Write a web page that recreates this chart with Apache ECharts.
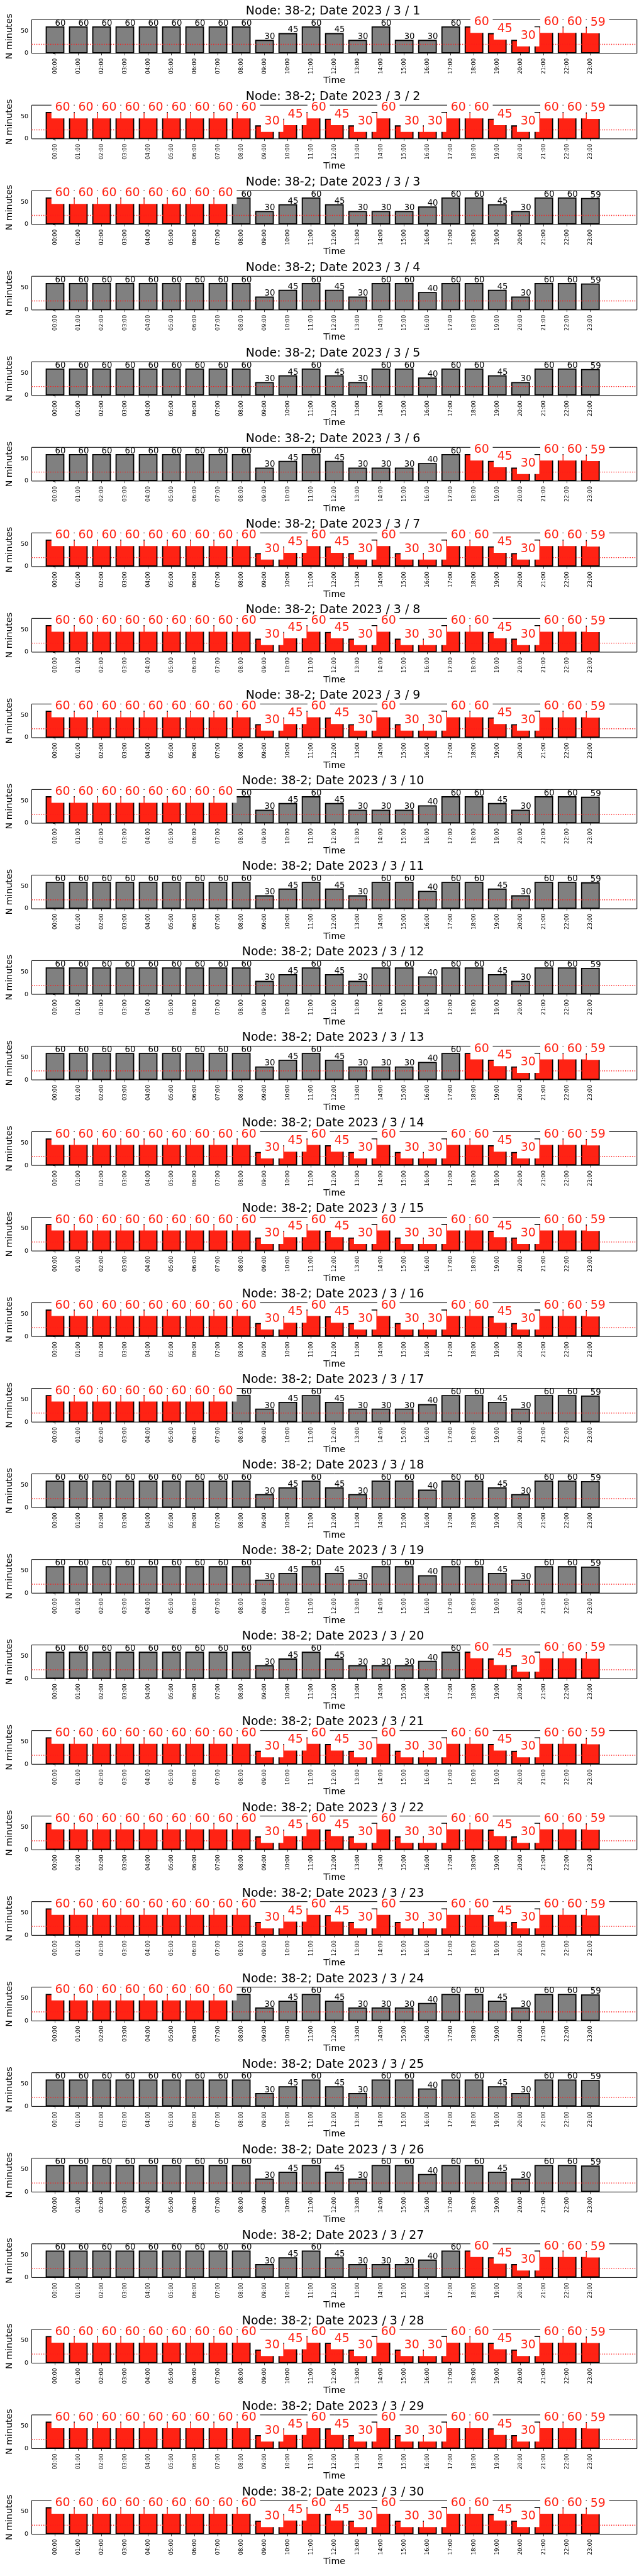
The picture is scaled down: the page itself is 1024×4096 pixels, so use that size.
<!DOCTYPE html>
<html><head><meta charset="utf-8">
<script src="https://cdn.jsdelivr.net/npm/echarts@6/dist/echarts.min.js"></script>
<style>html,body{margin:0;padding:0;background:#fff}#c{width:1024px;height:4096px}</style>
</head><body><div id="c"></div>
<script>
// ---------- data ----------
const hourLabels = ['00:00','01:00','02:00','03:00','04:00','05:00','06:00','07:00','08:00','09:00','10:00','11:00',
  '12:00','13:00','14:00','15:00','16:00','17:00','18:00','19:00','20:00','21:00','22:00','23:00'];
const dayLabels = ['2023 / 3 / 1','2023 / 3 / 2','2023 / 3 / 3','2023 / 3 / 4','2023 / 3 / 5','2023 / 3 / 6',
  '2023 / 3 / 7','2023 / 3 / 8','2023 / 3 / 9','2023 / 3 / 10','2023 / 3 / 11','2023 / 3 / 12','2023 / 3 / 13',
  '2023 / 3 / 14','2023 / 3 / 15','2023 / 3 / 16','2023 / 3 / 17','2023 / 3 / 18','2023 / 3 / 19','2023 / 3 / 20',
  '2023 / 3 / 21','2023 / 3 / 22','2023 / 3 / 23','2023 / 3 / 24','2023 / 3 / 25','2023 / 3 / 26','2023 / 3 / 27',
  '2023 / 3 / 28','2023 / 3 / 29','2023 / 3 / 30'];
const yTickValues = [0, 50];
const yMax = 75;
const thresholdMinutes = 20;

const minutes01 = [60,60,60,60,60,60,60,60,60,30,45,60,45,30,60,30,30,60,60,45,30,60,60,59];
const minutes02 = [60,60,60,60,60,60,60,60,60,30,45,60,45,30,60,30,30,60,60,45,30,60,60,59];
const minutes03 = [60,60,60,60,60,60,60,60,60,30,45,60,45,30,30,30,40,60,60,45,30,60,60,59];
const minutes04 = [60,60,60,60,60,60,60,60,60,30,45,60,45,30,60,60,40,60,60,45,30,60,60,59];
const minutes05 = [60,60,60,60,60,60,60,60,60,30,45,60,45,30,60,60,40,60,60,45,30,60,60,59];
const minutes06 = [60,60,60,60,60,60,60,60,60,30,45,60,45,30,30,30,40,60,60,45,30,60,60,59];
const minutes07 = [60,60,60,60,60,60,60,60,60,30,45,60,45,30,60,30,30,60,60,45,30,60,60,59];
const minutes08 = [60,60,60,60,60,60,60,60,60,30,45,60,45,30,60,30,30,60,60,45,30,60,60,59];
const minutes09 = [60,60,60,60,60,60,60,60,60,30,45,60,45,30,60,30,30,60,60,45,30,60,60,59];
const minutes10 = [60,60,60,60,60,60,60,60,60,30,45,60,45,30,30,30,40,60,60,45,30,60,60,59];
const minutes11 = [60,60,60,60,60,60,60,60,60,30,45,60,45,30,60,60,40,60,60,45,30,60,60,59];
const minutes12 = [60,60,60,60,60,60,60,60,60,30,45,60,45,30,60,60,40,60,60,45,30,60,60,59];
const minutes13 = [60,60,60,60,60,60,60,60,60,30,45,60,45,30,30,30,40,60,60,45,30,60,60,59];
const minutes14 = [60,60,60,60,60,60,60,60,60,30,45,60,45,30,60,30,30,60,60,45,30,60,60,59];
const minutes15 = [60,60,60,60,60,60,60,60,60,30,45,60,45,30,60,30,30,60,60,45,30,60,60,59];
const minutes16 = [60,60,60,60,60,60,60,60,60,30,45,60,45,30,60,30,30,60,60,45,30,60,60,59];
const minutes17 = [60,60,60,60,60,60,60,60,60,30,45,60,45,30,30,30,40,60,60,45,30,60,60,59];
const minutes18 = [60,60,60,60,60,60,60,60,60,30,45,60,45,30,60,60,40,60,60,45,30,60,60,59];
const minutes19 = [60,60,60,60,60,60,60,60,60,30,45,60,45,30,60,60,40,60,60,45,30,60,60,59];
const minutes20 = [60,60,60,60,60,60,60,60,60,30,45,60,45,30,30,30,40,60,60,45,30,60,60,59];
const minutes21 = [60,60,60,60,60,60,60,60,60,30,45,60,45,30,60,30,30,60,60,45,30,60,60,59];
const minutes22 = [60,60,60,60,60,60,60,60,60,30,45,60,45,30,60,30,30,60,60,45,30,60,60,59];
const minutes23 = [60,60,60,60,60,60,60,60,60,30,45,60,45,30,60,30,30,60,60,45,30,60,60,59];
const minutes24 = [60,60,60,60,60,60,60,60,60,30,45,60,45,30,30,30,40,60,60,45,30,60,60,59];
const minutes25 = [60,60,60,60,60,60,60,60,60,30,45,60,45,30,60,60,40,60,60,45,30,60,60,59];
const minutes26 = [60,60,60,60,60,60,60,60,60,30,45,60,45,30,60,60,40,60,60,45,30,60,60,59];
const minutes27 = [60,60,60,60,60,60,60,60,60,30,45,60,45,30,30,30,40,60,60,45,30,60,60,59];
const minutes28 = [60,60,60,60,60,60,60,60,60,30,45,60,45,30,60,30,30,60,60,45,30,60,60,59];
const minutes29 = [60,60,60,60,60,60,60,60,60,30,45,60,45,30,60,30,30,60,60,45,30,60,60,59];
const minutes30 = [60,60,60,60,60,60,60,60,60,30,45,60,45,30,60,30,30,60,60,45,30,60,60,59];

// 1 = hour drawn in red
const alert01 = [0,0,0,0,0,0,0,0,0,0,0,0,0,0,0,0,0,0,1,1,1,1,1,1];
const alert02 = [1,1,1,1,1,1,1,1,1,1,1,1,1,1,1,1,1,1,1,1,1,1,1,1];
const alert03 = [1,1,1,1,1,1,1,1,0,0,0,0,0,0,0,0,0,0,0,0,0,0,0,0];
const alert04 = [0,0,0,0,0,0,0,0,0,0,0,0,0,0,0,0,0,0,0,0,0,0,0,0];
const alert05 = [0,0,0,0,0,0,0,0,0,0,0,0,0,0,0,0,0,0,0,0,0,0,0,0];
const alert06 = [0,0,0,0,0,0,0,0,0,0,0,0,0,0,0,0,0,0,1,1,1,1,1,1];
const alert07 = [1,1,1,1,1,1,1,1,1,1,1,1,1,1,1,1,1,1,1,1,1,1,1,1];
const alert08 = [1,1,1,1,1,1,1,1,1,1,1,1,1,1,1,1,1,1,1,1,1,1,1,1];
const alert09 = [1,1,1,1,1,1,1,1,1,1,1,1,1,1,1,1,1,1,1,1,1,1,1,1];
const alert10 = [1,1,1,1,1,1,1,1,0,0,0,0,0,0,0,0,0,0,0,0,0,0,0,0];
const alert11 = [0,0,0,0,0,0,0,0,0,0,0,0,0,0,0,0,0,0,0,0,0,0,0,0];
const alert12 = [0,0,0,0,0,0,0,0,0,0,0,0,0,0,0,0,0,0,0,0,0,0,0,0];
const alert13 = [0,0,0,0,0,0,0,0,0,0,0,0,0,0,0,0,0,0,1,1,1,1,1,1];
const alert14 = [1,1,1,1,1,1,1,1,1,1,1,1,1,1,1,1,1,1,1,1,1,1,1,1];
const alert15 = [1,1,1,1,1,1,1,1,1,1,1,1,1,1,1,1,1,1,1,1,1,1,1,1];
const alert16 = [1,1,1,1,1,1,1,1,1,1,1,1,1,1,1,1,1,1,1,1,1,1,1,1];
const alert17 = [1,1,1,1,1,1,1,1,0,0,0,0,0,0,0,0,0,0,0,0,0,0,0,0];
const alert18 = [0,0,0,0,0,0,0,0,0,0,0,0,0,0,0,0,0,0,0,0,0,0,0,0];
const alert19 = [0,0,0,0,0,0,0,0,0,0,0,0,0,0,0,0,0,0,0,0,0,0,0,0];
const alert20 = [0,0,0,0,0,0,0,0,0,0,0,0,0,0,0,0,0,0,1,1,1,1,1,1];
const alert21 = [1,1,1,1,1,1,1,1,1,1,1,1,1,1,1,1,1,1,1,1,1,1,1,1];
const alert22 = [1,1,1,1,1,1,1,1,1,1,1,1,1,1,1,1,1,1,1,1,1,1,1,1];
const alert23 = [1,1,1,1,1,1,1,1,1,1,1,1,1,1,1,1,1,1,1,1,1,1,1,1];
const alert24 = [1,1,1,1,1,1,1,1,0,0,0,0,0,0,0,0,0,0,0,0,0,0,0,0];
const alert25 = [0,0,0,0,0,0,0,0,0,0,0,0,0,0,0,0,0,0,0,0,0,0,0,0];
const alert26 = [0,0,0,0,0,0,0,0,0,0,0,0,0,0,0,0,0,0,0,0,0,0,0,0];
const alert27 = [0,0,0,0,0,0,0,0,0,0,0,0,0,0,0,0,0,0,1,1,1,1,1,1];
const alert28 = [1,1,1,1,1,1,1,1,1,1,1,1,1,1,1,1,1,1,1,1,1,1,1,1];
const alert29 = [1,1,1,1,1,1,1,1,1,1,1,1,1,1,1,1,1,1,1,1,1,1,1,1];
const alert30 = [1,1,1,1,1,1,1,1,1,1,1,1,1,1,1,1,1,1,1,1,1,1,1,1];

const minutesByDay = [minutes01,minutes02,minutes03,minutes04,minutes05,minutes06,minutes07,minutes08,minutes09,minutes10,
  minutes11,minutes12,minutes13,minutes14,minutes15,minutes16,minutes17,minutes18,minutes19,minutes20,
  minutes21,minutes22,minutes23,minutes24,minutes25,minutes26,minutes27,minutes28,minutes29,minutes30];
const alertByDay = [alert01,alert02,alert03,alert04,alert05,alert06,alert07,alert08,alert09,alert10,
  alert11,alert12,alert13,alert14,alert15,alert16,alert17,alert18,alert19,alert20,
  alert21,alert22,alert23,alert24,alert25,alert26,alert27,alert28,alert29,alert30];

// ---------- layout / style ----------
const S = 0.682;
const FF = 'DejaVu Sans';
const RED = '#ff2314';
const GRAY = '#808080';
const GL = 68 * S, GW = (1485 - 68) * S;
const T0 = 45.7 * S, GH = (124.3 - 45.7) * S, PITCH = 199.45 * S;
const X_MIN = -1, X_MAX = 25;
const BAR_W = GW / (X_MAX - X_MIN) * 0.8;
const RED_F = 27.8 * S, GRAY_F = 19.4 * S;
const PAD_T = 4, PAD_B = 7.4, PAD_H = 5.7;
const hourIdx = hourLabels.map((_, i) => i);

const grid = [], xAxis = [], yAxis = [], series = [], title = [];
dayLabels.forEach((d, k) => {
  const top = T0 + k * PITCH;
  grid.push({left: GL, top: top, width: GW, height: GH, show: true, borderColor: '#000', borderWidth: 1, backgroundColor: 'transparent'});
  title.push({text: 'Node: 38-2; Date ' + d, left: GL + GW / 2, top: top - 22.6, textAlign: 'center', padding: 0, z: 30,
    textStyle: {fontFamily: FF, fontSize: 27.8 * S, fontWeight: 'normal', color: '#000'}});
  xAxis.push({gridIndex: k, type: 'value', min: X_MIN, max: X_MAX,
    axisLine: {show: false}, splitLine: {show: false},
    axisTick: {show: true, customValues: hourIdx, length: 3.3, lineStyle: {color: '#000', width: 0.8}},
    axisLabel: {customValues: hourIdx, formatter: v => hourLabels[v], rotate: 90, fontSize: 8.7, fontFamily: FF, color: '#000', margin: 8},
    name: 'Time', nameLocation: 'middle', nameGap: 36.6,
    nameTextStyle: {fontFamily: FF, fontSize: 14.2, color: '#000'}});
  yAxis.push({gridIndex: k, type: 'value', min: 0, max: yMax,
    axisLine: {show: false}, splitLine: {show: false},
    axisTick: {show: true, customValues: yTickValues, length: 3.3, lineStyle: {color: '#000', width: 0.8}},
    axisLabel: {customValues: yTickValues, fontSize: 9.5, fontFamily: FF, color: '#000', margin: 5.5},
    name: 'N minutes', nameLocation: 'middle', nameGap: 22.6,
    nameTextStyle: {fontFamily: FF, fontSize: 14.2, color: '#000'}});

  const mins = minutesByDay[k], al = alertByDay[k];
  series.push({type: 'bar', xAxisIndex: k, yAxisIndex: k, barWidth: BAR_W, z: 2, silent: true,
    itemStyle: {borderColor: '#000', borderWidth: 1.8},
    data: mins.map((v, i) => ({value: [i, v], itemStyle: {color: al[i] ? RED : GRAY}}))});
  series.push({type: 'line', xAxisIndex: k, yAxisIndex: k, z: 5, silent: true, symbol: 'none', showSymbol: false,
    lineStyle: {color: '#ff1a1a', width: 1.4, type: [1.4, 2.3]},
    data: [[X_MIN, thresholdMinutes], [X_MAX, thresholdMinutes]]});
  series.push({type: 'custom', xAxisIndex: k, yAxisIndex: k, z: 10, silent: true, clip: false,
    data: mins.map((v, i) => [i, v, al[i]]),
    renderItem: (params, api) => {
      const v = api.value(1), red = api.value(2);
      const p = api.coord([api.value(0), v]);
      if (red) {
        return {type: 'text', x: p[0] - PAD_H, y: p[1] - RED_F * 0.846 - PAD_T,
          style: {text: String(v), fill: RED, fontSize: RED_F, fontFamily: FF, align: 'left', verticalAlign: 'top',
            lineHeight: RED_F, backgroundColor: '#fff', padding: [PAD_T, PAD_H, PAD_B, PAD_H]}};
      }
      return {type: 'text', x: p[0], y: p[1] - GRAY_F * 0.846,
        style: {text: String(v), fill: '#000', fontSize: GRAY_F, fontFamily: FF, align: 'left', verticalAlign: 'top',
          lineHeight: GRAY_F}};
    }});
});

const chart = echarts.init(document.getElementById('c'), null, {renderer: 'canvas'});
chart.setOption({animation: false, backgroundColor: '#fff', title, grid, xAxis, yAxis, series});
</script></body></html>
